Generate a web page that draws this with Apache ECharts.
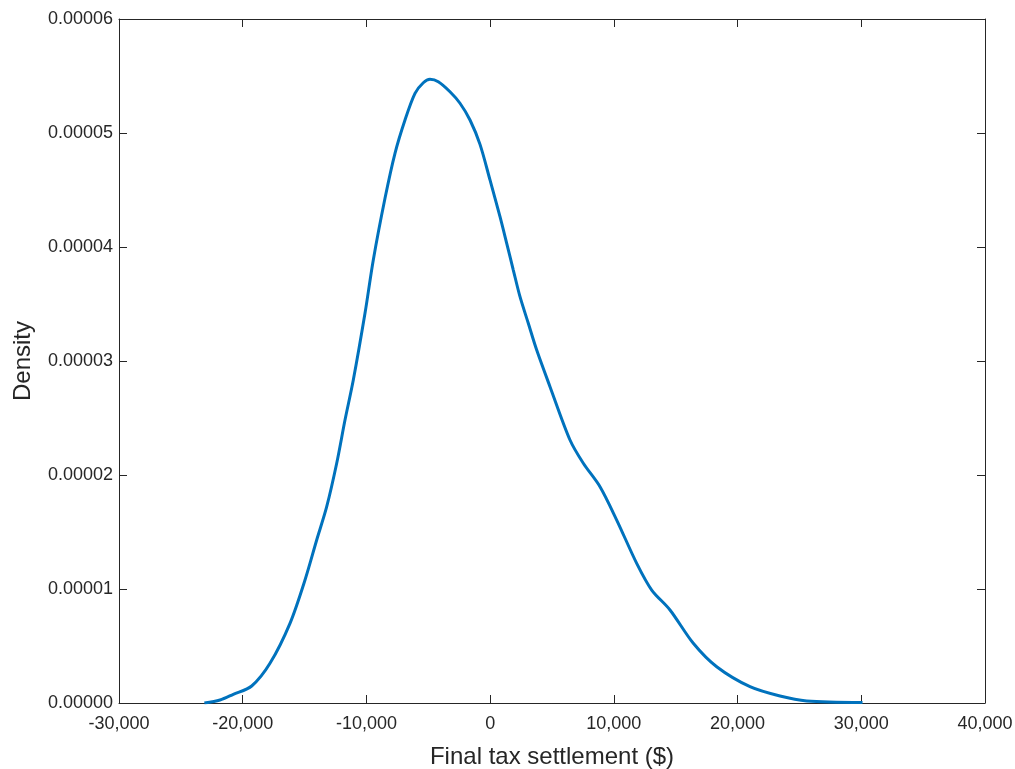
<!DOCTYPE html>
<html>
<head>
<meta charset="utf-8">
<title>Final tax settlement density</title>
<script src="https://cdn.jsdelivr.net/npm/echarts@6/dist/echarts.min.js"></script>
<style>
  html, body { margin: 0; padding: 0; background: #ffffff; }
  #chart { width: 1015px; height: 769px; }
</style>
</head>
<body>
<div id="chart"></div>
<script>
// Kernel density estimate of final tax settlement amounts
const settlement = [
  -23100, -21836, -20761, -19274, -17795, -16178, -14965, -14020, -13211, -12403,
  -11732, -11061, -10116, -9445, -8499, -7691, -6882, -6074, -5403, -4862,
  -4191, -3245, -2437, -1628, -820, -12, 797, 1339, 1872, 2413,
  3084, 3763, 4838, 6455, 7530, 8880, 10230, 11846, 13059, 14538,
  16421, 18313, 21004, 23429, 25587, 30100
];
const density = [
  0.000e-5, 0.026e-5, 0.076e-5, 0.149e-5, 0.348e-5, 0.699e-5, 1.079e-5, 1.430e-5, 1.722e-5, 2.103e-5,
  2.482e-5, 2.833e-5, 3.418e-5, 3.886e-5, 4.427e-5, 4.822e-5, 5.114e-5, 5.348e-5, 5.441e-5, 5.471e-5,
  5.450e-5, 5.362e-5, 5.261e-5, 5.114e-5, 4.900e-5, 4.588e-5, 4.266e-5, 4.032e-5, 3.798e-5, 3.564e-5,
  3.331e-5, 3.096e-5, 2.775e-5, 2.307e-5, 2.103e-5, 1.897e-5, 1.605e-5, 1.225e-5, 0.991e-5, 0.816e-5,
  0.524e-5, 0.318e-5, 0.143e-5, 0.061e-5, 0.018e-5, 0.005e-5
];
const xTicks = { min: -30000, max: 40000, step: 10000 };
const yTicks = { min: 0, max: 0.00006, step: 0.00001 };

const axisColor = '#262626';
const fontFamily = '"Liberation Sans", Arial, Helvetica, sans-serif';

const chart = echarts.init(document.getElementById('chart'), null, { renderer: 'canvas' });

const points = settlement.map((x, i) => [x, density[i]]);

// Shared look for the four sides of the axes box (ticks pointing inward)
const boxAxis = {
  axisLine: { show: true, onZero: false, lineStyle: { color: axisColor, width: 1 } },
  axisTick: { show: true, inside: true, length: 8, lineStyle: { color: axisColor, width: 1 } },
  splitLine: { show: false }
};

chart.setOption({
  animation: false,
  backgroundColor: '#ffffff',
  grid: {
    left: 119, right: 30, top: 19, bottom: 66,
    containLabel: false,
    outerBoundsMode: 'none'
  },
  xAxis: [
    Object.assign({}, boxAxis, {
      type: 'value', position: 'bottom',
      min: xTicks.min, max: xTicks.max, interval: xTicks.step,
      name: 'Final tax settlement ($)',
      nameLocation: 'middle', nameGap: 42,
      nameTextStyle: { color: axisColor, fontSize: 24, fontFamily: fontFamily },
      axisLabel: {
        color: axisColor, fontSize: 18, fontFamily: fontFamily, margin: 12,
        hideOverlap: false,
        formatter: v => v.toLocaleString('en-US')
      }
    }),
    Object.assign({}, boxAxis, {
      type: 'value', position: 'top',
      min: xTicks.min, max: xTicks.max, interval: xTicks.step,
      axisLabel: { show: false }
    })
  ],
  yAxis: [
    Object.assign({}, boxAxis, {
      type: 'value', position: 'left',
      min: yTicks.min, max: yTicks.max, interval: yTicks.step,
      name: 'Density',
      nameLocation: 'middle', nameGap: 84,
      nameTextStyle: { color: axisColor, fontSize: 24, fontFamily: fontFamily },
      axisLabel: {
        color: axisColor, fontSize: 18, fontFamily: fontFamily, margin: 6,
        formatter: v => v.toFixed(5)
      }
    }),
    Object.assign({}, boxAxis, {
      type: 'value', position: 'right',
      min: yTicks.min, max: yTicks.max, interval: yTicks.step,
      axisLabel: { show: false }
    })
  ],
  series: [{
    type: 'line',
    xAxisIndex: 0,
    yAxisIndex: 0,
    data: points,
    smooth: 0.3,
    showSymbol: false,
    lineStyle: { color: '#0072BD', width: 3 },
    clip: true
  }]
});
</script>
</body>
</html>
